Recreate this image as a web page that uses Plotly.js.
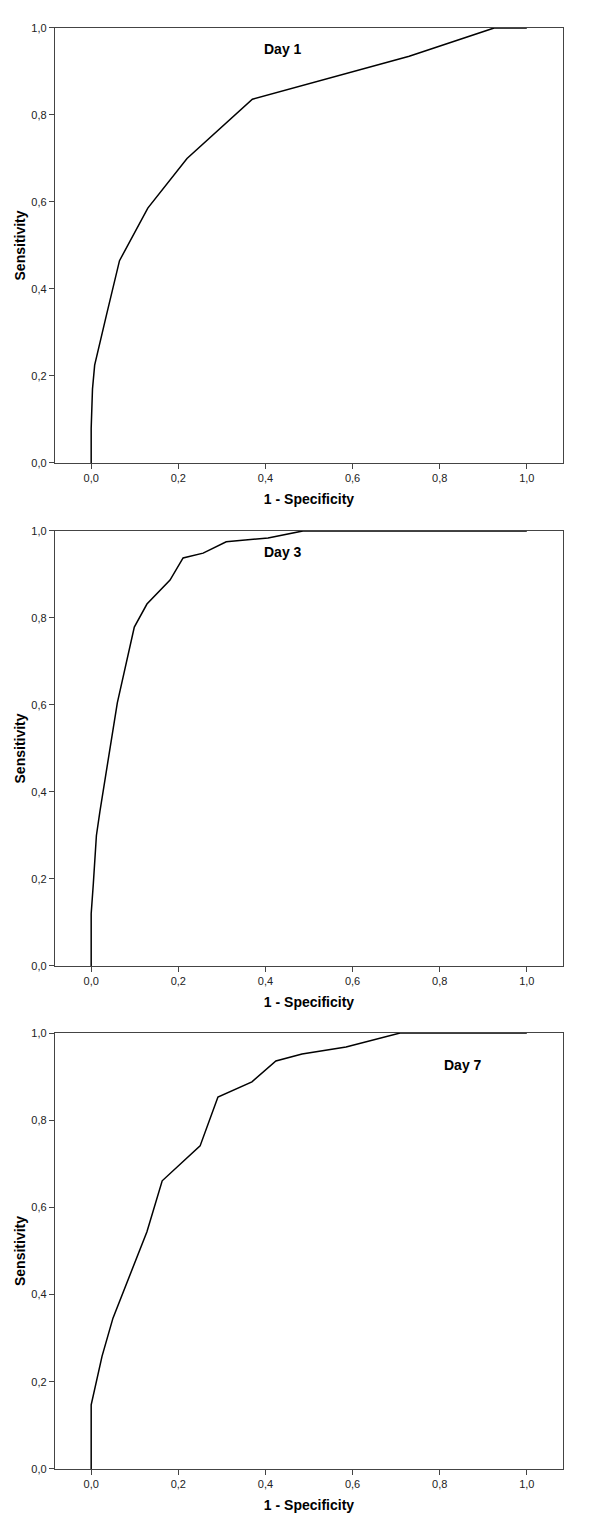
<!DOCTYPE html>
<html>
<head>
<meta charset="utf-8">
<script src="https://cdn.plot.ly/plotly-3.0.1.min.js"></script>
<style>
  html, body { margin: 0; padding: 0; background: #fff; }
  #RocDiv { width: 600px; height: 1527px; }
</style>
</head>
<body>
<div id="RocDiv"></div>
<script>
// ROC curves, 1 - specificity vs sensitivity
var day1X = [0, 0, 0.003, 0.008, 0.035, 0.065, 0.13, 0.22, 0.37, 0.73, 0.925, 1.0];
var day1Y = [0, 0.08, 0.17, 0.225, 0.34, 0.465, 0.586, 0.70, 0.836, 0.935, 1.0, 1.0];

var day3X = [0, 0, 0.005, 0.012, 0.02, 0.06, 0.099, 0.128, 0.181, 0.211, 0.257, 0.31, 0.406, 0.486, 1.0];
var day3Y = [0, 0.12, 0.19, 0.30, 0.355, 0.605, 0.779, 0.832, 0.887, 0.938, 0.949, 0.975, 0.984, 1.0, 1.0];

var day7X = [0, 0, 0.025, 0.05, 0.128, 0.163, 0.25, 0.291, 0.369, 0.424, 0.484, 0.585, 0.709, 1.0];
var day7Y = [0, 0.147, 0.259, 0.346, 0.544, 0.661, 0.741, 0.853, 0.888, 0.936, 0.952, 0.968, 1.0, 1.0];

var panelNames = ['Day 1', 'Day 3', 'Day 7'];
var tickVals = [0, 0.2, 0.4, 0.6, 0.8, 1.0];
var tickText = ['0,0', '0,2', '0,4', '0,6', '0,8', '1,0'];

var lineStyle = {color: 'black', width: 1.5};

var trace1 = {x: day1X, y: day1Y, type: 'scatter', mode: 'lines', line: lineStyle, xaxis: 'x', yaxis: 'y'};
var trace2 = {x: day3X, y: day3Y, type: 'scatter', mode: 'lines', line: lineStyle, xaxis: 'x2', yaxis: 'y2'};
var trace3 = {x: day7X, y: day7Y, type: 'scatter', mode: 'lines', line: lineStyle, xaxis: 'x3', yaxis: 'y3'};

var data = [trace1, trace2, trace3];

var tickFont = {family: 'Liberation Sans, Arial, sans-serif', size: 11, color: '#222'};
var titleFont = {family: 'Liberation Sans, Arial, sans-serif', size: 14, color: '#000'};

function xAxis(anchor) {
  return {
    anchor: anchor,
    domain: [0.0917, 0.9383],
    range: [-0.083, 1.083],
    tickvals: tickVals,
    ticktext: tickText,
    ticks: 'outside',
    ticklen: 5,
    tickcolor: '#444',
    tickfont: tickFont,
    showgrid: false,
    zeroline: false,
    showline: true,
    mirror: true,
    linecolor: '#444',
    linewidth: 1.2,
    title: {text: '<b>1 - Specificity</b>', font: titleFont, standoff: 10}
  };
}

function yAxis(anchor, domain) {
  return {
    anchor: anchor,
    domain: domain,
    range: [0, 1],
    tickvals: tickVals,
    ticktext: tickText,
    ticks: 'outside',
    ticklen: 5,
    tickcolor: '#444',
    tickfont: tickFont,
    showgrid: false,
    zeroline: false,
    showline: true,
    mirror: true,
    linecolor: '#444',
    linewidth: 1.2,
    title: {text: '<b>Sensitivity</b>', font: titleFont, standoff: 2}
  };
}

var labelFont = {family: 'Liberation Sans, Arial, sans-serif', size: 14, color: '#000'};

var layout = {
  width: 600,
  height: 1527,
  margin: {l: 0, r: 0, t: 0, b: 0},
  showlegend: false,
  paper_bgcolor: 'white',
  plot_bgcolor: 'white',
  xaxis: xAxis('y'),
  yaxis: yAxis('x', [0.6968, 0.9817]),
  xaxis2: xAxis('y2'),
  yaxis2: yAxis('x2', [0.3674, 0.6523]),
  xaxis3: xAxis('y3'),
  yaxis3: yAxis('x3', [0.0380, 0.3235]),
  annotations: [
    {xref: 'x', yref: 'y', x: 0.44, y: 0.952, text: '<b>' + panelNames[0] + '</b>', showarrow: false, font: labelFont},
    {xref: 'x2', yref: 'y2', x: 0.44, y: 0.952, text: '<b>' + panelNames[1] + '</b>', showarrow: false, font: labelFont},
    {xref: 'x3', yref: 'y3', x: 0.853, y: 0.927, text: '<b>' + panelNames[2] + '</b>', showarrow: false, font: labelFont}
  ]
};

Plotly.newPlot('RocDiv', data, layout, {displayModeBar: false, staticPlot: true});
</script>
</body>
</html>
